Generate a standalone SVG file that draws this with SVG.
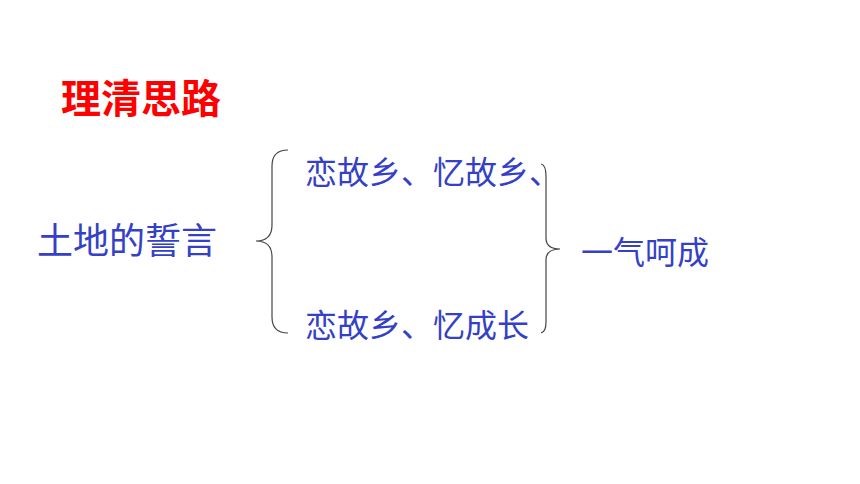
<svg xmlns="http://www.w3.org/2000/svg" width="860" height="484" viewBox="0 0 860 484">
<style>
.t{font-family:"Noto Sans CJK SC","Noto Sans",sans-serif;fill:#3441C6}
.br{fill:none;stroke:#444;stroke-width:1.2}
</style>
<rect width="860" height="484" fill="#fff"/>
<g id="title"><text x="61" y="113" font-family="'Noto Sans CJK SC',sans-serif" font-size="40" font-weight="600" fill="#FF0000">理清思路</text></g>
<g id="root"><text class="t" x="37" y="254" font-size="36">土地的誓言</text></g>
<g id="top"><text class="t" x="305" y="184" font-size="32">恋故乡、忆故乡、</text></g>
<g id="bottom"><text class="t" x="305" y="337" font-size="32">恋故乡、忆成长</text></g>
<g id="result"><text class="t" x="581" y="264" font-size="32">一气呵成</text></g>
<g id="connectors">
<path class="br" d="M288,150 Q272,150 272,166 L272,225 Q272,241 256,241 Q272,241 272,257 L272,317 Q272,333 288,333"/>
<path class="br" d="M541,164 Q546,165 546,176 L546,238 Q546,249 560,249 Q546,249 546,260 L546,322 Q546,332 541,333"/>
</g>
</svg>
